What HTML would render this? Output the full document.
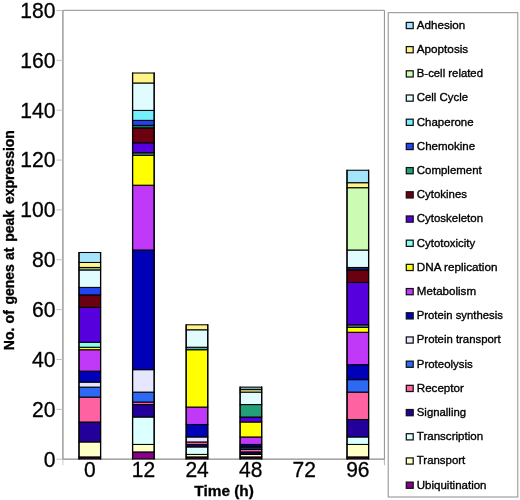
<!DOCTYPE html>
<html><head><meta charset="utf-8"><title>Genes at peak expression</title>
<style>
html,body{margin:0;padding:0;background:#fff;}
body{width:520px;height:500px;overflow:hidden;font-family:"Liberation Sans",sans-serif;}
svg{display:block;}
text{font-family:"Liberation Sans",sans-serif;fill:#000;}
.tick{font-size:22px;stroke:#000;stroke-width:0.3px;}
.leg{font-size:11.6px;stroke:#000;stroke-width:0.35px;}
.ax{font-size:15.4px;font-weight:bold;stroke:#000;stroke-width:0.3px;}
.ay{font-size:14px;font-weight:bold;stroke:#000;stroke-width:0.35px;}
</style></head><body>
<svg width="520" height="500" viewBox="0 0 520 500">
<rect x="0" y="0" width="520" height="500" fill="#ffffff"/>

<g fill="none" stroke="#8c8c8c" stroke-width="1">
<path d="M62.9 10.3H384.4V459.0"/>
<path d="M384.4 459.0V465.3" stroke="#b4b4b4"/>
<path d="M62.9 459.0V465.3" stroke="#cccccc"/>
</g>
<g fill="none" stroke="#969696" stroke-width="1.4">
<path d="M62.9 10.3V459.0"/>
</g>
<g fill="none" stroke="#8c8c8c" stroke-width="1.2">
<path d="M62.9 459.2H384.4"/>
</g>
<g fill="none" stroke="#c0c0c0" stroke-width="1">
<path d="M56.4 459.20H62.9"/>
<path d="M56.4 409.34H62.9"/>
<path d="M56.4 359.49H62.9"/>
<path d="M56.4 309.63H62.9"/>
<path d="M56.4 259.78H62.9"/>
<path d="M56.4 209.92H62.9"/>
<path d="M56.4 160.07H62.9"/>
<path d="M56.4 110.21H62.9"/>
<path d="M56.4 60.36H62.9"/>
<path d="M56.4 10.50H62.9"/>
</g>
<g class="tick" text-anchor="end">
<text transform="translate(55.5 466.70) scale(0.96 1)">0</text>
<text transform="translate(55.5 416.94) scale(0.96 1)">20</text>
<text transform="translate(55.5 366.89) scale(0.96 1)">40</text>
<text transform="translate(55.5 316.53) scale(0.96 1)">60</text>
<text transform="translate(55.5 267.08) scale(0.96 1)">80</text>
<text transform="translate(55.5 216.72) scale(0.96 1)">100</text>
<text transform="translate(55.5 167.47) scale(0.96 1)">120</text>
<text transform="translate(55.5 118.01) scale(0.96 1)">140</text>
<text transform="translate(55.5 67.86) scale(0.96 1)">160</text>
<text transform="translate(55.5 18.40) scale(0.96 1)">180</text>
</g>
<g class="tick" text-anchor="middle">
<text transform="translate(89.89 477.4) scale(0.955 1)">0</text>
<text transform="translate(143.47 477.4) scale(0.955 1)">12</text>
<text transform="translate(197.06 477.4) scale(0.955 1)">24</text>
<text transform="translate(250.64 477.4) scale(0.955 1)">48</text>
<text transform="translate(304.22 477.4) scale(0.955 1)">72</text>
<text transform="translate(357.81 477.4) scale(0.955 1)">96</text>
</g>
<g stroke="#000000" stroke-width="1.05" stroke-linejoin="miter">
<rect x="78.99" y="456.91" width="21.6" height="1.99" fill="#3d003d"/>
<rect x="78.99" y="441.95" width="21.6" height="14.96" fill="#ffffc8"/>
<rect x="78.99" y="422.01" width="21.6" height="19.94" fill="#220099"/>
<rect x="78.99" y="397.08" width="21.6" height="24.93" fill="#ff62a0"/>
<rect x="78.99" y="387.11" width="21.6" height="9.97" fill="#2c6af4"/>
<rect x="78.99" y="382.12" width="21.6" height="4.99" fill="#e6e6ff"/>
<rect x="78.99" y="371.16" width="21.6" height="10.97" fill="#0000b8"/>
<rect x="78.99" y="349.72" width="21.6" height="21.44" fill="#c038f8"/>
<rect x="78.99" y="347.23" width="21.6" height="2.49" fill="#ffff00"/>
<rect x="78.99" y="342.24" width="21.6" height="4.99" fill="#88fff0"/>
<rect x="78.99" y="307.34" width="21.6" height="34.90" fill="#5500dd"/>
<rect x="78.99" y="294.88" width="21.6" height="12.46" fill="#6a0010"/>
<rect x="78.99" y="287.40" width="21.6" height="7.48" fill="#2244ee"/>
<rect x="78.99" y="269.95" width="21.6" height="17.45" fill="#e0fcff"/>
<rect x="78.99" y="267.46" width="21.6" height="2.49" fill="#8eb07d"/>
<rect x="78.99" y="262.47" width="21.6" height="4.99" fill="#fff488"/>
<rect x="78.99" y="252.50" width="21.6" height="9.97" fill="#a4e4fc"/>
<rect x="132.57" y="451.92" width="21.6" height="6.98" fill="#880088"/>
<rect x="132.57" y="444.44" width="21.6" height="7.48" fill="#ffffc8"/>
<rect x="132.57" y="417.02" width="21.6" height="27.42" fill="#dcffff"/>
<rect x="132.57" y="404.56" width="21.6" height="12.46" fill="#220099"/>
<rect x="132.57" y="402.07" width="21.6" height="2.49" fill="#ff62a0"/>
<rect x="132.57" y="392.09" width="21.6" height="9.97" fill="#2c6af4"/>
<rect x="132.57" y="369.66" width="21.6" height="22.44" fill="#e6e6ff"/>
<rect x="132.57" y="250.01" width="21.6" height="119.65" fill="#0000b8"/>
<rect x="132.57" y="185.19" width="21.6" height="64.81" fill="#c038f8"/>
<rect x="132.57" y="155.28" width="21.6" height="29.91" fill="#ffff00"/>
<rect x="132.57" y="152.79" width="21.6" height="2.49" fill="#4a8c84"/>
<rect x="132.57" y="142.82" width="21.6" height="9.97" fill="#5500dd"/>
<rect x="132.57" y="127.86" width="21.6" height="14.96" fill="#6a0010"/>
<rect x="132.57" y="125.37" width="21.6" height="2.49" fill="#19785a"/>
<rect x="132.57" y="120.38" width="21.6" height="4.99" fill="#2244ee"/>
<rect x="132.57" y="110.41" width="21.6" height="9.97" fill="#74f0fc"/>
<rect x="132.57" y="82.99" width="21.6" height="27.42" fill="#e0fcff"/>
<rect x="132.57" y="73.02" width="21.6" height="9.97" fill="#fff488"/>
<rect x="186.16" y="456.91" width="21.6" height="1.99" fill="#3d003d"/>
<rect x="186.16" y="454.41" width="21.6" height="2.49" fill="#ffffc8"/>
<rect x="186.16" y="446.94" width="21.6" height="7.48" fill="#dcffff"/>
<rect x="186.16" y="444.44" width="21.6" height="2.49" fill="#17006b"/>
<rect x="186.16" y="441.95" width="21.6" height="2.49" fill="#ff62a0"/>
<rect x="186.16" y="436.96" width="21.6" height="4.99" fill="#e6e6ff"/>
<rect x="186.16" y="424.50" width="21.6" height="12.46" fill="#0000b8"/>
<rect x="186.16" y="407.05" width="21.6" height="17.45" fill="#c038f8"/>
<rect x="186.16" y="349.72" width="21.6" height="57.33" fill="#ffff00"/>
<rect x="186.16" y="347.23" width="21.6" height="2.49" fill="#51a8b0"/>
<rect x="186.16" y="329.78" width="21.6" height="17.45" fill="#e0fcff"/>
<rect x="186.16" y="324.79" width="21.6" height="4.99" fill="#fff488"/>
<rect x="240.09" y="456.91" width="21.6" height="1.99" fill="#3d003d"/>
<rect x="240.09" y="454.41" width="21.6" height="2.49" fill="#ffffc8"/>
<rect x="240.09" y="451.92" width="21.6" height="2.49" fill="#14005b"/>
<rect x="240.09" y="449.43" width="21.6" height="2.49" fill="#ff62a0"/>
<rect x="240.09" y="446.94" width="21.6" height="2.49" fill="#132f6d"/>
<rect x="240.09" y="444.44" width="21.6" height="2.49" fill="#00006e"/>
<rect x="240.09" y="436.96" width="21.6" height="7.48" fill="#c038f8"/>
<rect x="240.09" y="422.01" width="21.6" height="14.96" fill="#ffff00"/>
<rect x="240.09" y="417.02" width="21.6" height="4.99" fill="#5500dd"/>
<rect x="240.09" y="404.56" width="21.6" height="12.46" fill="#22a078"/>
<rect x="240.09" y="392.09" width="21.6" height="12.46" fill="#e0fcff"/>
<rect x="240.09" y="389.60" width="21.6" height="2.49" fill="#fff488"/>
<rect x="240.09" y="387.11" width="21.6" height="2.49" fill="#7babbd"/>
<rect x="347.01" y="456.91" width="21.6" height="1.99" fill="#3d003d"/>
<rect x="347.01" y="444.44" width="21.6" height="12.46" fill="#ffffc8"/>
<rect x="347.01" y="436.96" width="21.6" height="7.48" fill="#dcffff"/>
<rect x="347.01" y="419.52" width="21.6" height="17.45" fill="#220099"/>
<rect x="347.01" y="392.09" width="21.6" height="27.42" fill="#ff62a0"/>
<rect x="347.01" y="379.63" width="21.6" height="12.46" fill="#2c6af4"/>
<rect x="347.01" y="364.67" width="21.6" height="14.96" fill="#0000b8"/>
<rect x="347.01" y="332.27" width="21.6" height="32.41" fill="#c038f8"/>
<rect x="347.01" y="327.28" width="21.6" height="4.99" fill="#ffff00"/>
<rect x="347.01" y="324.79" width="21.6" height="2.49" fill="#4a8c84"/>
<rect x="347.01" y="282.41" width="21.6" height="42.38" fill="#5500dd"/>
<rect x="347.01" y="269.95" width="21.6" height="12.46" fill="#6a0010"/>
<rect x="347.01" y="267.46" width="21.6" height="2.49" fill="#112277"/>
<rect x="347.01" y="250.01" width="21.6" height="17.45" fill="#e0fcff"/>
<rect x="347.01" y="187.69" width="21.6" height="62.32" fill="#ccfcb4"/>
<rect x="347.01" y="182.70" width="21.6" height="4.99" fill="#fff488"/>
<rect x="347.01" y="170.24" width="21.6" height="12.46" fill="#a4e4fc"/>
</g>
<path d="M78.99 251.98V459.40M100.59 251.98V459.40M132.57 72.50V459.40M154.18 72.50V459.40M186.16 324.27V459.40M207.76 324.27V459.40M240.09 386.59V459.40M261.69 386.59V459.40M347.01 169.72V459.40M368.61 169.72V459.40" fill="none" stroke="#000000" stroke-width="1.25"/>
<text class="ax" x="224.1" y="496.2" text-anchor="middle">Time (h)</text>
<text class="ay" transform="translate(13.8 0) rotate(-90)"><tspan x="-350.2" y="0">No. </tspan><tspan x="-323.4" y="0">of </tspan><tspan x="-304.6" y="0">genes </tspan><tspan x="-260.1" y="0">at </tspan><tspan x="-241.8" y="0">peak </tspan><tspan x="-204.0" y="0">expression </tspan></text>
<rect x="388.2" y="12.7" width="129.6" height="484.3" fill="#ffffff" stroke="#8c8c8c" stroke-width="1"/>
<g stroke="#111111" stroke-width="1.25">
<rect x="406.3" y="22.40" width="6.9" height="6.2" fill="#a4e4fc"/>
<rect x="406.3" y="46.59" width="6.9" height="6.2" fill="#fff488"/>
<rect x="406.3" y="70.79" width="6.9" height="6.2" fill="#ccfcb4"/>
<rect x="406.3" y="94.99" width="6.9" height="6.2" fill="#e0fcff"/>
<rect x="406.3" y="119.18" width="6.9" height="6.2" fill="#74f0fc"/>
<rect x="406.3" y="143.38" width="6.9" height="6.2" fill="#2244ee"/>
<rect x="406.3" y="167.57" width="6.9" height="6.2" fill="#22a078"/>
<rect x="406.3" y="191.77" width="6.9" height="6.2" fill="#6a0010"/>
<rect x="406.3" y="215.96" width="6.9" height="6.2" fill="#5500dd"/>
<rect x="406.3" y="240.16" width="6.9" height="6.2" fill="#88fff0"/>
<rect x="406.3" y="264.35" width="6.9" height="6.2" fill="#ffff00"/>
<rect x="406.3" y="288.54" width="6.9" height="6.2" fill="#c038f8"/>
<rect x="406.3" y="312.74" width="6.9" height="6.2" fill="#0000b8"/>
<rect x="406.3" y="336.94" width="6.9" height="6.2" fill="#e6e6ff"/>
<rect x="406.3" y="361.13" width="6.9" height="6.2" fill="#2c6af4"/>
<rect x="406.3" y="385.32" width="6.9" height="6.2" fill="#ff62a0"/>
<rect x="406.3" y="409.52" width="6.9" height="6.2" fill="#220099"/>
<rect x="406.3" y="433.71" width="6.9" height="6.2" fill="#dcffff"/>
<rect x="406.3" y="457.91" width="6.9" height="6.2" fill="#ffffc8"/>
<rect x="406.3" y="482.10" width="6.9" height="6.2" fill="#880088"/>
</g>
<g class="leg">
<text transform="translate(416.8 28.85) scale(1.0 1)">Adhesion</text>
<text transform="translate(416.8 53.05) scale(1.01 1)">Apoptosis</text>
<text transform="translate(416.8 77.24) scale(0.978 1)">B-cell related</text>
<text transform="translate(416.8 101.44) scale(0.981 1)">Cell Cycle</text>
<text transform="translate(416.8 125.63) scale(0.991 1)">Chaperone</text>
<text transform="translate(416.8 149.82) scale(0.996 1)">Chemokine</text>
<text transform="translate(416.8 174.02) scale(0.989 1)">Complement</text>
<text transform="translate(416.8 198.22) scale(0.986 1)">Cytokines</text>
<text transform="translate(416.8 222.41) scale(0.989 1)">Cytoskeleton</text>
<text transform="translate(416.8 246.60) scale(0.983 1)">Cytotoxicity</text>
<text transform="translate(416.8 270.80) scale(1.009 1)">DNA replication</text>
<text transform="translate(416.8 295.00) scale(1.0 1)">Metabolism</text>
<text transform="translate(416.8 319.19) scale(0.975 1)">Protein synthesis</text>
<text transform="translate(416.8 343.39) scale(0.98 1)">Protein transport</text>
<text transform="translate(416.8 367.58) scale(0.987 1)">Proteolysis</text>
<text transform="translate(416.8 391.78) scale(1.0 1)">Receptor</text>
<text transform="translate(416.8 415.97) scale(0.98 1)">Signalling</text>
<text transform="translate(416.8 440.17) scale(0.996 1)">Transcription</text>
<text transform="translate(416.8 464.36) scale(0.985 1)">Transport</text>
<text transform="translate(416.8 488.56) scale(0.993 1)">Ubiquitination</text>
</g>
</svg></body></html>
